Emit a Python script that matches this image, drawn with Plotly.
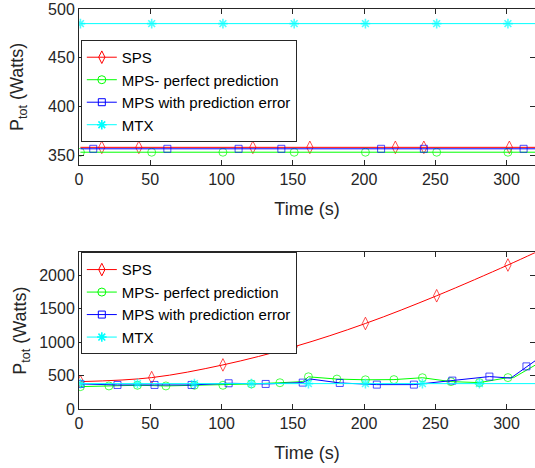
import plotly.graph_objects as go

# ---------------- upper panel: steady total power ----------------
up_sps_t = [1, 16, 42, 122, 162, 222, 242, 302, 320]
up_sps_p = [358, 358, 358, 358, 358, 358, 358, 358, 358]
up_sps_marked = [0, 1, 1, 1, 1, 1, 1, 1, 0]

up_mpp_t = [1, 51, 101, 151, 201, 251, 301, 320]
up_mpp_p = [353, 353, 353, 353, 353, 353, 353, 353]
up_mpp_marked = [1, 1, 1, 1, 1, 1, 1, 0]

up_mpe_t = [1, 10, 62, 112, 142, 212, 242, 312, 320]
up_mpe_p = [356.5, 356.5, 356.5, 356.5, 356.5, 356.5, 356.5, 356.5, 356.5]
up_mpe_marked = [0, 1, 1, 1, 1, 1, 1, 1, 0]

up_mtx_t = [1, 51, 101, 151, 201, 251, 301, 320]
up_mtx_p = [485, 485, 485, 485, 485, 485, 485, 485]
up_mtx_marked = [1, 1, 1, 1, 1, 1, 1, 0]

# ---------------- lower panel: growing load ----------------
lo_sps_t = [1, 51, 101, 151, 201, 251, 301, 320]
lo_sps_p = [410, 470, 660, 932, 1280, 1695, 2155, 2340]
lo_sps_marked = [1, 1, 1, 1, 1, 1, 1, 0]

lo_mpp_t = [1, 21, 41, 61, 81, 101, 121, 141, 157, 161, 181, 201, 221,
            241, 261, 281, 301, 305, 320]
lo_mpp_p = [335, 345, 355, 345, 355, 355, 375, 393, 410, 482, 448, 437, 440,
            468, 410, 395, 470, 470, 655]
lo_mpp_marked = [1, 1, 1, 1, 1, 1, 1, 1, 0, 1, 1, 1, 1, 1, 1, 1, 1, 0, 0]

lo_mpe_t = [1, 27, 53, 79, 105, 131, 157, 162, 183, 209, 235, 262, 288,
            303, 314, 320]
lo_mpe_p = [375, 360, 360, 360, 385, 375, 395, 450, 390, 365, 365, 425, 485,
            462, 638, 720]
lo_mpe_marked = [1, 1, 1, 1, 1, 1, 1, 0, 1, 1, 1, 1, 1, 0, 1, 0]

lo_mtx_t = [1, 41, 81, 121, 161, 201, 241, 281, 320]
lo_mtx_p = [380, 380, 380, 380, 380, 380, 380, 380, 380]
lo_mtx_marked = [1, 1, 1, 1, 1, 1, 1, 1, 0]

names = ["SPS", "MPS- perfect prediction", "MPS with prediction error", "MTX"]
colors = ["#FF0000", "#00FF00", "#0000FF", "#00FFFF"]
symbols = ["diamond-tall-open", "circle-open", "square-open", "asterisk-open"]
msizes = [9, 8, 7, 8]
mwidths = [1, 1, 1, 1.6]

upper = [(up_sps_t, up_sps_p, up_sps_marked), (up_mpp_t, up_mpp_p, up_mpp_marked),
         (up_mpe_t, up_mpe_p, up_mpe_marked), (up_mtx_t, up_mtx_p, up_mtx_marked)]
lower = [(lo_sps_t, lo_sps_p, lo_sps_marked), (lo_mpp_t, lo_mpp_p, lo_mpp_marked),
         (lo_mpe_t, lo_mpe_p, lo_mpe_marked), (lo_mtx_t, lo_mtx_p, lo_mtx_marked)]

fig = go.Figure()


def add_panel(series, xa, ya, legend_id, smooth_first):
    for i, (t, p, marked) in enumerate(series):
        sizes = [msizes[i] if m else 0 for m in marked]
        shape = "spline" if (smooth_first and i == 0) else "linear"
        fig.add_trace(go.Scatter(
            x=t, y=p, mode="lines+markers", xaxis=xa, yaxis=ya,
            line=dict(color=colors[i], width=1, shape=shape),
            marker=dict(symbol=symbols[i], size=sizes, color=colors[i],
                        line=dict(width=mwidths[i], color=colors[i])),
            showlegend=False, hoverinfo="skip"))
    # legend entries
    for i in range(4):
        fig.add_trace(go.Scatter(
            x=[None], y=[None], mode="lines+markers", xaxis=xa, yaxis=ya,
            name=names[i], legend=legend_id,
            line=dict(color=colors[i], width=1),
            marker=dict(symbol=symbols[i], size=msizes[i], color=colors[i],
                        line=dict(width=mwidths[i], color=colors[i]))))


add_panel(upper, "x", "y", "legend", False)
add_panel(lower, "x2", "y2", "legend2", True)

FONT = "Liberation Sans, Arial, Helvetica, sans-serif"
INK = "#262626"

axis_common = dict(
    showline=True, linecolor=INK, linewidth=1, mirror="ticks",
    ticks="inside", ticklen=5, tickcolor=INK, tickwidth=1,
    showgrid=False, zeroline=False,
    tickfont=dict(family=FONT, size=16, color=INK),
    title_font=dict(family=FONT, size=18, color=INK),
)

legend_common = dict(
    xanchor="left", yanchor="top", x=0.004,
    bgcolor="white", bordercolor=INK, borderwidth=1,
    font=dict(family=FONT, size=15, color="black"),
    tracegroupgap=0,
)

fig.update_layout(
    width=535, height=468,
    margin=dict(l=79, r=0, t=9, b=59),
    paper_bgcolor="white", plot_bgcolor="white",
    font=dict(family=FONT, size=16, color=INK),
    xaxis=dict(axis_common, domain=[0, 1], anchor="y", range=[0, 320],
               tickvals=[0, 50, 100, 150, 200, 250, 300],
               title=dict(text="Time (s)", standoff=15)),
    yaxis=dict(axis_common, domain=[0.6103, 1], anchor="x", range=[340, 500],
               tickvals=[350, 400, 450, 500],
               title=dict(text="P<sub>tot</sub> (Watts)", standoff=19)),
    xaxis2=dict(axis_common, domain=[0, 1], anchor="y2", range=[0, 320],
                tickvals=[0, 50, 100, 150, 200, 250, 300],
                title=dict(text="Time (s)", standoff=15)),
    yaxis2=dict(axis_common, domain=[0, 0.3917], anchor="x2", range=[0, 2345],
                tickvals=[0, 500, 1000, 1500, 2000],
                title=dict(text="P<sub>tot</sub> (Watts)", standoff=7)),
    legend=dict(legend_common, y=0.9226),
    legend2=dict(legend_common, y=0.3917),
)

fig.write_html("out.html")
